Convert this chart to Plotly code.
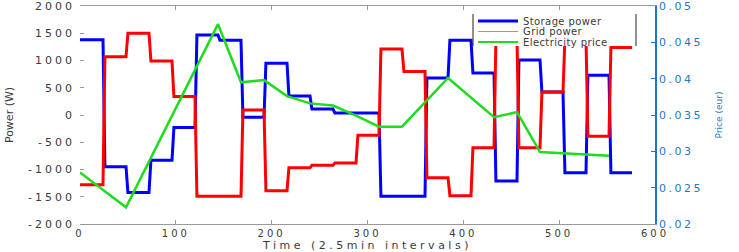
import plotly.graph_objects as go

# ---- data ----
hour_starts = [0, 24, 48, 72, 96, 120, 144, 168, 192, 216, 240, 264,
               288, 312, 336, 360, 384, 408, 432, 456, 480, 504, 528, 552]
series_end = 576

storage_power = [1380, -950, -1420, -830, -230, 1470, 1370, -40, 950, 350, 110, 35,
                 35, -1490, -1490, 680, 1370, 770, -1210, 1010, 420, -1060, 730, -1060]
grid_power = [-1280, 1070, 1500, 990, 340, -1490, -1490, 90, -1390, -970, -920, -880,
              -370, 1210, 800, -1150, -1480, -600, 1400, -600, 420, 1400, -390, 1240]

price_t = [0, 48, 144, 168, 192, 216, 240, 264, 288, 312, 336, 384, 432, 456, 480, 504, 528, 552]
price = [0.0271, 0.0223, 0.0475, 0.0395, 0.0398, 0.0376, 0.0366, 0.0363, 0.0349, 0.0334,
         0.0334, 0.0401, 0.0347, 0.0354, 0.0299, 0.0297, 0.0295, 0.0294]

x_ticks = [0, 100, 200, 300, 400, 500, 600]
y_ticks = [-2000, -1500, -1000, -500, 0, 500, 1000, 1500, 2000]
y2_ticks = [0.02, 0.025, 0.03, 0.035, 0.04, 0.045, 0.05]

series_names = ["Storage power", "Grid power", "Electricity price"]
series_colors = ["#0000ff", "#ff0000", "#1fdc1f"]

RAMP = 2  # transition width (intervals)


def step_xy(starts, levels, end, ramp):
    xs, ys = [], []
    for i, lvl in enumerate(levels):
        x0 = starts[i] + (ramp if i > 0 else 0)
        x1 = starts[i + 1] if i + 1 < len(starts) else end
        xs += [x0, x1]
        ys += [lvl, lvl]
    return xs, ys


def spaced(text, sp):
    return f"<span style='letter-spacing:{sp}px'>{text}</span>"


sx, sy = step_xy(hour_starts, storage_power, series_end, RAMP)
gx, gy = step_xy(hour_starts, grid_power, series_end, RAMP)

W, H = 739, 252
L, R, T, B = 80, 655, 6, 224  # plot area in pixels


def px(xp):
    return (xp - L) / (R - L)


def py(yp):
    return (B - yp) / (B - T)


font = "DejaVu Sans"
txt = "#3a3a3a"
blue_axis = "#1f78c1"

fig = go.Figure()
fig.add_trace(go.Scatter(x=sx, y=sy, mode="lines", name=series_names[0],
                         line=dict(color=series_colors[0], width=3)))
fig.add_trace(go.Scatter(x=gx, y=gy, mode="lines", name=series_names[1],
                         line=dict(color=series_colors[1], width=3)))
fig.add_trace(go.Scatter(x=price_t, y=price, mode="lines", name=series_names[2],
                         line=dict(color=series_colors[2], width=2.5), yaxis="y2"))

# custom compact legend (box, left/right edges, samples, labels)
shapes = [
    dict(type="rect", xref="paper", yref="paper", x0=px(473), x1=px(636), y0=py(46), y1=py(14),
         fillcolor="white", line=dict(width=0)),
    dict(type="line", xref="paper", yref="paper", x0=px(473), x1=px(473), y0=py(46), y1=py(14),
         line=dict(color="#222", width=1)),
    dict(type="line", xref="paper", yref="paper", x0=px(636), x1=px(636), y0=py(46), y1=py(14),
         line=dict(color="#222", width=1)),
]
annotations = []
row_y = [21, 31.5, 42]
sample_w = [3, 1.2, 2]
sample_c = ["#0000ff", "#ff7070", "#1fdc1f"]
for name, yy, w, c in zip(series_names, row_y, sample_w, sample_c):
    shapes.append(dict(type="line", xref="paper", yref="paper", x0=px(478), x1=px(518),
                       y0=py(yy), y1=py(yy), line=dict(color=c, width=w)))
    annotations.append(dict(xref="paper", yref="paper", x=px(521), y=py(yy), xanchor="left",
                            yanchor="middle", showarrow=False, text=spaced(name, 0.4),
                            font=dict(family=font, size=10, color=txt)))

fig.update_layout(
    width=W, height=H,
    margin=dict(l=L, r=W - R, t=T, b=H - B),
    paper_bgcolor="white", plot_bgcolor="white",
    font=dict(family=font, size=11, color=txt),
    showlegend=False,
    shapes=shapes, annotations=annotations,
    xaxis=dict(range=[0, 600], tickvals=x_ticks, ticktext=[spaced(v, 3) for v in x_ticks],
               automargin=False, ticklabeloverflow="allow",
               showgrid=False, zeroline=False, showline=True, linecolor="#999",
               linewidth=1, mirror="ticks", ticks="inside", ticklen=4, tickcolor="#999",
               title=dict(text=spaced("Time (2.5min intervals)", 3.5), standoff=1,
                          font=dict(family=font, size=11, color=txt)),
               tickfont=dict(family=font, size=10, color=txt)),
    yaxis=dict(range=[-2000, 2000], tickvals=y_ticks, ticktext=[spaced(v, 3) for v in y_ticks],
               automargin=False, ticklabeloverflow="allow",
               showgrid=False, zeroline=False, showline=False,
               ticks="inside", ticklen=4, tickcolor="#999", ticklabelstandoff=4,
               title=dict(text="Power (W)", standoff=12,
                          font=dict(family=font, size=11, color=txt)),
               tickfont=dict(family=font, size=11, color=txt)),
    yaxis2=dict(range=[0.02, 0.05], tickvals=y2_ticks,
                ticktext=[spaced(f"{v:g}", 2.5) for v in y2_ticks], overlaying="y", side="right",
                automargin=False, ticklabeloverflow="allow",
                showgrid=False, zeroline=False, showline=True, linecolor=blue_axis,
                linewidth=1.5, ticks="inside", ticklen=4, tickcolor=blue_axis,
                title=dict(text="Price (eur)", standoff=14,
                           font=dict(family=font, size=9, color=blue_axis)),
                tickfont=dict(family=font, size=11, color=blue_axis)),
)

fig.write_html("out.html")
